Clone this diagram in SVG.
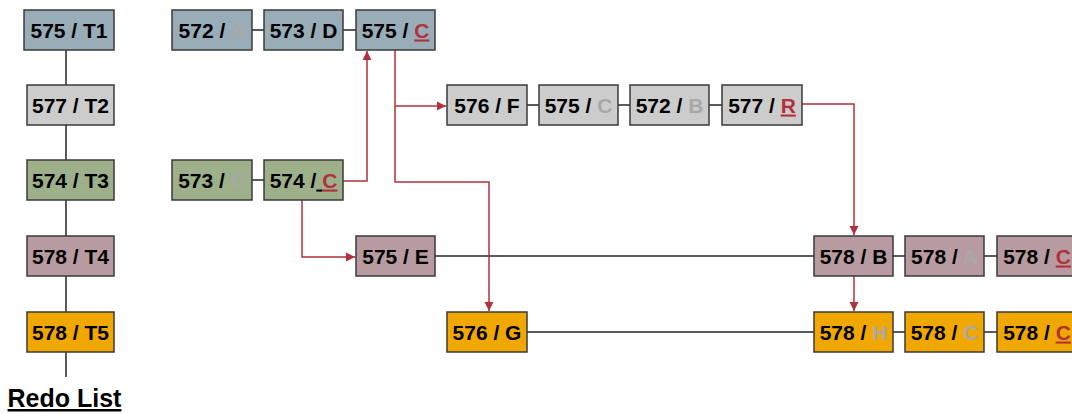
<svg xmlns="http://www.w3.org/2000/svg" width="1072" height="414" viewBox="0 0 1072 414">
<style>
rect{stroke:#3a3a3a;stroke-width:1.5}
.b{fill:#98adb8}.g{fill:#cccccc}.v{fill:#9db08a}.m{fill:#b89ba1}.o{fill:#f0a800}
text{font-family:"Liberation Sans",Arial,sans-serif;font-weight:bold;font-size:21px;fill:#000;text-anchor:middle}
.d{fill:#a8a8a8}.r{fill:#b0323c;text-decoration:underline}
.k{stroke:#262626;stroke-width:1.5;fill:none}
.red{stroke:#b0323c;stroke-width:1.5;fill:none;marker-end:url(#ah)}
</style>
<defs>
<marker id="ah" markerUnits="userSpaceOnUse" markerWidth="10" markerHeight="10" refX="9" refY="5" orient="auto">
<path d="M0,0.5 L9,5 L0,9.5 z" fill="#b0323c"/>
</marker>
</defs>
<g id="connectors">
<path class="k" d="M66,50V85M66,125V160M66,200V236M66,276V312M66,352V377"/>
<path class="k" d="M252,30H264M343,30H356M527,105H539M618,105H630M709,105H722M252,180H264M435,256H814M893,256H905M984,256H997M527,332H814M893,332H905M984,332H997"/>
<path class="red" d="M343,181H367V51"/>
<path class="red" d="M395,50V182H489V311"/>
<path class="red" d="M395,106H446"/>
<path class="red" d="M302,200V257H355"/>
<path class="red" d="M802,104H854V235"/>
<path class="red" d="M854,276V311"/>
</g>
<g id="t1"><rect class="b" x="24" y="10" width="90" height="40"/><text x="69" y="37.5">575 / T1</text></g>
<g id="t2"><rect class="g" x="27" y="85" width="87" height="40"/><text x="70.5" y="112.5">577 / T2</text></g>
<g id="t3"><rect class="v" x="27" y="160" width="87" height="40"/><text x="70.5" y="187.5">574 / T3</text></g>
<g id="t4"><rect class="m" x="27" y="236" width="87" height="40"/><text x="70.5" y="263.5">578 / T4</text></g>
<g id="t5"><rect class="o" x="27" y="312" width="87" height="40"/><text x="70.5" y="339.5">578 / T5</text></g>
<g id="n572a"><rect class="b" x="172" y="10" width="80" height="40"/><text x="212" y="37.5">572 / <tspan class="d">A</tspan></text></g>
<g id="n573d"><rect class="b" x="264" y="10" width="79" height="40"/><text x="303.5" y="37.5">573 / D</text></g>
<g id="n575c"><rect class="b" x="356" y="10" width="79" height="40"/><text x="395.5" y="37.5">575 / <tspan class="r">C</tspan></text></g>
<g id="n576f"><rect class="g" x="447" y="85" width="80" height="40"/><text x="487" y="112.5">576 / F</text></g>
<g id="n575c2"><rect class="g" x="539" y="85" width="79" height="40"/><text x="578.5" y="112.5">575 / <tspan class="d">C</tspan></text></g>
<g id="n572b"><rect class="g" x="630" y="85" width="79" height="40"/><text x="669.5" y="112.5">572 / <tspan class="d">B</tspan></text></g>
<g id="n577r"><rect class="g" x="722" y="85" width="80" height="40"/><text x="762" y="112.5">577 / <tspan class="r">R</tspan></text></g>
<g id="n573c"><rect class="v" x="172" y="160" width="80" height="40"/><text x="212" y="187.5">573 / <tspan class="d">C</tspan></text></g>
<g id="n574c"><rect class="v" x="264" y="160" width="79" height="40"/><text x="303.5" y="187.5">574 /<tspan text-decoration="underline"> </tspan><tspan class="r">C</tspan></text></g>
<g id="n575e"><rect class="m" x="356" y="236" width="79" height="40"/><text x="395.5" y="263.5">575 / E</text></g>
<g id="n578b"><rect class="m" x="814" y="236" width="79" height="40"/><text x="853.5" y="263.5">578 / B</text></g>
<g id="n578a"><rect class="m" x="905" y="236" width="79" height="40"/><text x="944.5" y="263.5">578 / <tspan class="d">A</tspan></text></g>
<g id="n578c1"><rect class="m" x="997" y="236" width="80" height="40"/><text x="1037" y="263.5">578 / <tspan class="r">C</tspan></text></g>
<g id="n576g"><rect class="o" x="447" y="312" width="80" height="40"/><text x="487" y="339.5">576 / G</text></g>
<g id="n578h"><rect class="o" x="814" y="312" width="79" height="40"/><text x="853.5" y="339.5">578 / <tspan class="d">H</tspan></text></g>
<g id="n578c2"><rect class="o" x="905" y="312" width="79" height="40"/><text x="944.5" y="339.5">578 / <tspan class="d">C</tspan></text></g>
<g id="n578c3"><rect class="o" x="997" y="312" width="80" height="40"/><text x="1037" y="339.5">578 / <tspan class="r">C</tspan></text></g>
<text x="64.5" y="407" style="font-size:25px;text-decoration:underline">Redo List</text>
</svg>
